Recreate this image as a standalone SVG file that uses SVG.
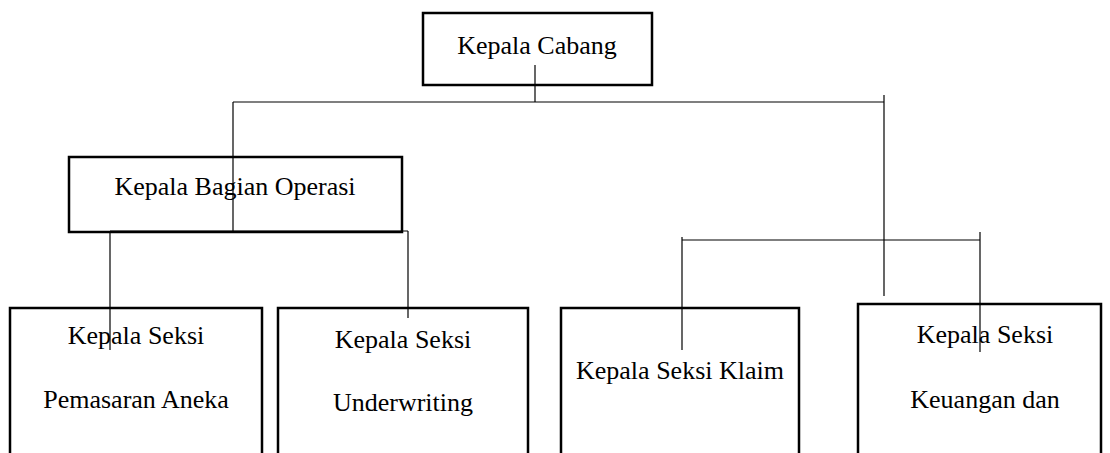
<svg xmlns="http://www.w3.org/2000/svg" width="1110" height="453" viewBox="0 0 1110 453">
<style>
.box{fill:#fff;stroke:#000;stroke-width:2.5}
.ln{fill:none;stroke:#000;stroke-width:1.2}
text{font-family:"Liberation Serif","Times New Roman",serif;font-size:26px;fill:#000;text-anchor:middle}
</style>
<rect width="1110" height="453" fill="#fff"/>
<g id="kepala-cabang">
<rect class="box" x="423" y="13" width="229" height="72"/>
<text x="537" y="54">Kepala Cabang</text>
</g>
<g id="kepala-bagian-operasi">
<rect class="box" x="69" y="157" width="333" height="75"/>
<text x="235" y="195">Kepala Bagian Operasi</text>
</g>
<g id="seksi-pemasaran">
<path class="box" d="M10,460 V308 H262 V460"/>
<text x="136" y="344">Kepala Seksi</text>
<text x="136" y="408">Pemasaran Aneka</text>
</g>
<g id="seksi-underwriting">
<path class="box" d="M278,460 V308 H528 V460"/>
<text x="403" y="348">Kepala Seksi</text>
<text x="403" y="411">Underwriting</text>
</g>
<g id="seksi-klaim">
<path class="box" d="M561,460 V308 H799 V460"/>
<text x="680" y="379">Kepala Seksi Klaim</text>
</g>
<g id="seksi-keuangan">
<path class="box" d="M858,460 V304 H1101 V460"/>
<text x="985" y="343">Kepala Seksi</text>
<text x="985" y="408">Keuangan dan</text>
</g>
<g id="connectors">
<path class="ln" d="M535,65 V102"/>
<path class="ln" d="M233,102 H884"/>
<path class="ln" d="M884,95 V296"/>
<path class="ln" d="M233,102 V231"/>
<path class="ln" d="M110,231 H408"/>
<path class="ln" d="M110,231 V350"/>
<path class="ln" d="M408,231 V318"/>
<path class="ln" d="M682,240 H980"/>
<path class="ln" d="M682,237 V350"/>
<path class="ln" d="M980,232 V352"/>
</g>
</svg>
